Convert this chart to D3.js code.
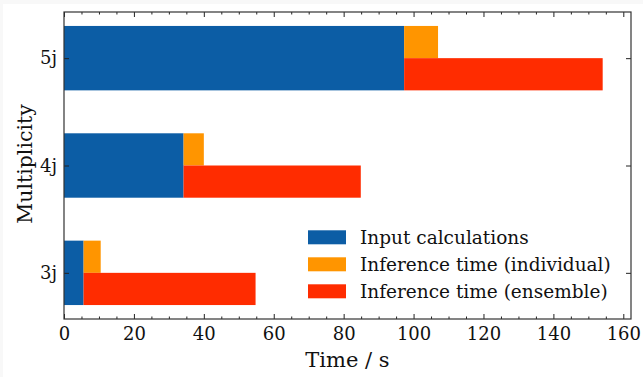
<!DOCTYPE html>
<html><head><meta charset="utf-8">
<script src="https://cdn.jsdelivr.net/npm/d3@7"></script>
<style>html,body{margin:0;padding:0;background:#f8f8f8;}svg{display:block;}</style>
</head><body>
<svg id="c" width="643" height="377"></svg>
<script>
const categories = ["3j", "4j", "5j"];
const inputCalc = [5.6, 34.2, 97.3];
const inferIndividual = [4.9, 5.8, 9.7];
const inferEnsemble = [49.2, 50.7, 56.8];
const xTicks = [0, 20, 40, 60, 80, 100, 120, 140, 160];
const seriesNames = ["Input calculations", "Inference time (individual)", "Inference time (ensemble)"];
const colors = ["#0C5DA5", "#FF9500", "#FF2C00"];

const svg = d3.select("#c");
svg.append("rect").attr("x", 3).attr("y", 4).attr("width", 640).attr("height", 373).attr("fill", "#fff");

const L = 64, R = 631, T = 12, B = 319;
const font = "DejaVu Serif";
const x = d3.scaleLinear().domain([0, 162.2]).range([L, R]);
const y = d3.scaleLinear().domain([-0.43, 2.43]).range([B, T]);
const bh = 0.6;

const g = svg.append("g");
categories.forEach((c, i) => {
  g.append("rect").attr("x", x(0)).attr("width", x(inputCalc[i]) - x(0))
    .attr("y", y(i + bh/2)).attr("height", y(i - bh/2) - y(i + bh/2)).attr("fill", colors[0]);
  g.append("rect").attr("x", x(inputCalc[i])).attr("width", x(inputCalc[i] + inferIndividual[i]) - x(inputCalc[i]))
    .attr("y", y(i + bh/2)).attr("height", y(i) - y(i + bh/2)).attr("fill", colors[1]);
  g.append("rect").attr("x", x(inputCalc[i])).attr("width", x(inputCalc[i] + inferEnsemble[i]) - x(inputCalc[i]))
    .attr("y", y(i)).attr("height", y(i - bh/2) - y(i)).attr("fill", colors[2]);
});

const minor = d3.range(0, 162, 5).filter(v => v % 20 !== 0);
const axB = d3.axisBottom(x).tickValues(xTicks).tickSizeInner(-5).tickSizeOuter(0).tickPadding(8);
const axT = d3.axisTop(x).tickValues(xTicks).tickSizeInner(-5).tickSizeOuter(0).tickFormat("");
const axBm = d3.axisBottom(x).tickValues(minor).tickSizeInner(-2.5).tickSizeOuter(0).tickFormat("");
const axTm = d3.axisTop(x).tickValues(minor).tickSizeInner(-2.5).tickSizeOuter(0).tickFormat("");
const yv = [0, 1, 2];
const axL = d3.axisLeft(y).tickValues(yv).tickFormat(d => categories[d]).tickSizeInner(-5).tickSizeOuter(0).tickPadding(7);
const axR = d3.axisRight(y).tickValues(yv).tickFormat("").tickSizeInner(-5).tickSizeOuter(0);

function style(sel) {
  sel.select(".domain").remove();
  sel.selectAll("line").attr("stroke", "#222").attr("stroke-width", 1);
  sel.selectAll("text").attr("font-family", font).attr("font-size", 18).attr("fill", "#111");
}
svg.append("g").attr("transform", `translate(0,${B})`).call(axB).call(style);
svg.append("g").attr("transform", `translate(0,${B})`).call(axBm).call(style);
svg.append("g").attr("transform", `translate(0,${T})`).call(axT).call(style);
svg.append("g").attr("transform", `translate(0,${T})`).call(axTm).call(style);
svg.append("g").attr("transform", `translate(${L},0)`).call(axL).call(style);
svg.append("g").attr("transform", `translate(${R},0)`).call(axR).call(style);

svg.append("rect").attr("x", L).attr("y", T).attr("width", R - L).attr("height", B - T)
  .attr("fill", "none").attr("stroke", "#333").attr("stroke-width", 1.2);

svg.append("text").attr("x", 347.5).attr("y", 367).attr("text-anchor", "middle")
  .attr("font-family", font).attr("font-size", 21).attr("fill", "#111").text("Time / s");
svg.append("text").attr("transform", `translate(32,164) rotate(-90)`).attr("text-anchor", "middle")
  .attr("font-family", font).attr("font-size", 20.5).attr("fill", "#111").text("Multiplicity");

const lg = svg.append("g");
seriesNames.forEach((n, i) => {
  const yy = 237.3 + i * 27;
  lg.append("rect").attr("x", 308).attr("y", yy - 7).attr("width", 38).attr("height", 14).attr("fill", colors[i]);
  lg.append("text").attr("x", 360).attr("y", yy + 6.5).attr("font-family", font).attr("font-size", 18.5)
    .attr("fill", "#111").text(n);
});
</script>
</body></html>
